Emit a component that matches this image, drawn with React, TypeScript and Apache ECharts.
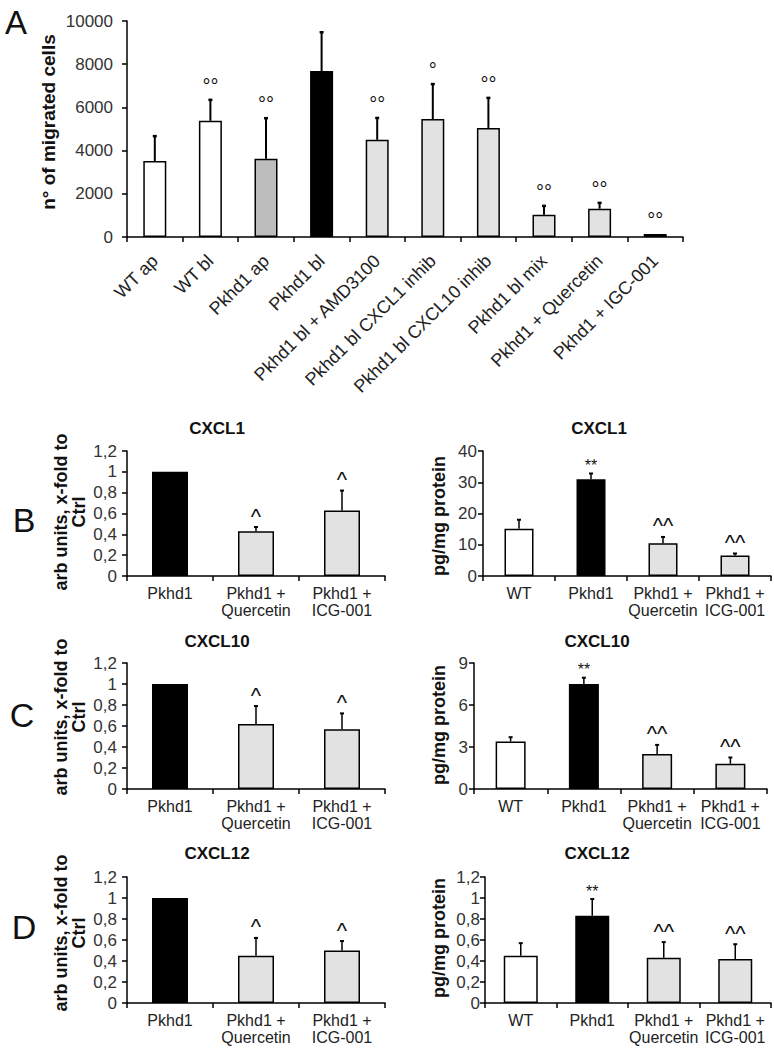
import React, { useEffect, useRef } from "react";
import * as echarts from "echarts";

const FONT = "'Liberation Sans', Arial, Helvetica, sans-serif";

// ---------- Panel A: migrated cells ----------
const migCategories = [
  "WT ap",
  "WT bl",
  "Pkhd1 ap",
  "Pkhd1 bl",
  "Pkhd1 bl + AMD3100",
  "Pkhd1 bl CXCL1 inhib",
  "Pkhd1 bl CXCL10 inhib",
  "Pkhd1 bl mix",
  "Pkhd1 + Quercetin",
  "Pkhd1 + IGC-001",
];
const migValues = [3520, 5380, 3620, 7680, 4500, 5460, 5050, 1030, 1310, 140];
const migErrors = [1150, 970, 1880, 1800, 1010, 1620, 1390, 410, 270, 0];
const migMarks = ["", "°°", "°°", "", "°°", "°", "°°", "°°", "°°", "°°"];
const migColors = ["#ffffff", "#ffffff", "#bdbdbd", "#000000", "#e2e2e2", "#e2e2e2", "#e2e2e2", "#e2e2e2", "#e2e2e2", "#000000"];
const migTicks = [0, 2000, 4000, 6000, 8000, 10000];

// ---------- Panels B-D ----------
const rnaCategories = ["Pkhd1", "Pkhd1 +\nQuercetin", "Pkhd1 +\nICG-001"];
const rnaColors = ["#000000", "#e2e2e2", "#e2e2e2"];
const proteinCategories = ["WT", "Pkhd1", "Pkhd1 +\nQuercetin", "Pkhd1 +\nICG-001"];
const proteinColors = ["#ffffff", "#000000", "#e2e2e2", "#e2e2e2"];

const cxcl1RnaValues = [1.0, 0.43, 0.63];
const cxcl1RnaErrors = [0, 0.04, 0.19];
const cxcl1RnaMarks = ["", "^", "^"];
const cxcl1ProteinValues = [15.1, 31.0, 10.5, 6.6];
const cxcl1ProteinErrors = [2.9, 1.8, 2.0, 0.6];
const cxcl1ProteinMarks = ["", "**", "^^", "^^"];

const cxcl10RnaValues = [1.0, 0.62, 0.57];
const cxcl10RnaErrors = [0, 0.17, 0.15];
const cxcl10RnaMarks = ["", "^", "^"];
const cxcl10ProteinValues = [3.4, 7.5, 2.5, 1.8];
const cxcl10ProteinErrors = [0.3, 0.45, 0.65, 0.45];
const cxcl10ProteinMarks = ["", "**", "^^", "^^"];

const cxcl12RnaValues = [1.0, 0.45, 0.5];
const cxcl12RnaErrors = [0, 0.17, 0.09];
const cxcl12RnaMarks = ["", "^", "^"];
const cxcl12ProteinValues = [0.45, 0.83, 0.43, 0.42];
const cxcl12ProteinErrors = [0.12, 0.16, 0.15, 0.14];
const cxcl12ProteinMarks = ["", "**", "^^", "^^"];

const rnaTicks = [0, 0.2, 0.4, 0.6, 0.8, 1, 1.2];
const cxcl1ProteinTicks = [0, 10, 20, 30, 40];
const cxcl10ProteinTicks = [0, 3, 6, 9];
const cxcl12ProteinTicks = [0, 0.2, 0.4, 0.6, 0.8, 1, 1.2];

type Panel = {
  grid: { left: number; top: number; width: number; height: number };
  categories: string[];
  values: number[];
  errors: number[];
  marks: string[];
  colors: string[];
  ticks: number[];
  barWidth: number;
  labelMargin: number;
  xRotate: number;
  xMargin: number;
  xFont: number;
  markGap: number;
  cap: number;
  errWidth: number;
};

const fmt = (v: number) => String(Math.round(v * 100) / 100).replace(".", ",");

export default function App() {
  const ref = useRef<HTMLDivElement>(null);

  useEffect(() => {
    if (!ref.current) return;
    const chart = echarts.init(ref.current, undefined, { renderer: "svg" });

    const leftW = 258;
    const panels: Panel[] = [
      {
        grid: { left: 127, top: 21, width: 556, height: 216 },
        categories: migCategories, values: migValues, errors: migErrors, marks: migMarks, colors: migColors,
        ticks: migTicks, barWidth: 23, labelMargin: 14, xRotate: 45, xMargin: 21, xFont: 18, markGap: 4, cap: 2, errWidth: 2,
      },
      {
        grid: { left: 127, top: 451, width: leftW, height: 125 },
        categories: rnaCategories, values: cxcl1RnaValues, errors: cxcl1RnaErrors, marks: cxcl1RnaMarks, colors: rnaColors,
        ticks: rnaTicks, barWidth: 36, labelMargin: 10, xRotate: 0, xMargin: 9, xFont: 16, markGap: 0, cap: 2, errWidth: 1.5,
      },
      {
        grid: { left: 483, top: 451, width: 288, height: 125 },
        categories: proteinCategories, values: cxcl1ProteinValues, errors: cxcl1ProteinErrors, marks: cxcl1ProteinMarks, colors: proteinColors,
        ticks: cxcl1ProteinTicks, barWidth: 29, labelMargin: 6, xRotate: 0, xMargin: 9, xFont: 16, markGap: 0, cap: 2, errWidth: 1.5,
      },
      {
        grid: { left: 127, top: 663, width: leftW, height: 126 },
        categories: rnaCategories, values: cxcl10RnaValues, errors: cxcl10RnaErrors, marks: cxcl10RnaMarks, colors: rnaColors,
        ticks: rnaTicks, barWidth: 36, labelMargin: 10, xRotate: 0, xMargin: 9, xFont: 16, markGap: 0, cap: 2, errWidth: 1.5,
      },
      {
        grid: { left: 474, top: 663, width: 293, height: 126 },
        categories: proteinCategories, values: cxcl10ProteinValues, errors: cxcl10ProteinErrors, marks: cxcl10ProteinMarks, colors: proteinColors,
        ticks: cxcl10ProteinTicks, barWidth: 30, labelMargin: 6, xRotate: 0, xMargin: 9, xFont: 16, markGap: 0, cap: 2, errWidth: 1.5,
      },
      {
        grid: { left: 127, top: 877, width: leftW, height: 126 },
        categories: rnaCategories, values: cxcl12RnaValues, errors: cxcl12RnaErrors, marks: cxcl12RnaMarks, colors: rnaColors,
        ticks: rnaTicks, barWidth: 36, labelMargin: 10, xRotate: 0, xMargin: 9, xFont: 16, markGap: 0, cap: 2, errWidth: 1.5,
      },
      {
        grid: { left: 485, top: 877, width: 286, height: 126 },
        categories: proteinCategories, values: cxcl12ProteinValues, errors: cxcl12ProteinErrors, marks: cxcl12ProteinMarks, colors: proteinColors,
        ticks: cxcl12ProteinTicks, barWidth: 34, labelMargin: 5, xRotate: 0, xMargin: 9, xFont: 16, markGap: 0, cap: 2, errWidth: 1.5,
      },
    ];

    const grids: any[] = [];
    const xAxes: any[] = [];
    const yAxes: any[] = [];
    const series: any[] = [];

    panels.forEach((p, i) => {
      grids.push({ ...p.grid, containLabel: false });
      xAxes.push({
        type: "category",
        gridIndex: i,
        data: p.categories,
        axisLine: { lineStyle: { color: "#000", width: 1.5 } },
        axisTick: { show: true, length: 5, lineStyle: { color: "#000", width: 1.5 } },
        axisLabel: {
          interval: 0,
          rotate: p.xRotate,
          margin: p.xMargin,
          color: "#222",
          fontFamily: FONT,
          fontSize: p.xFont,
          lineHeight: 17,
        },
        splitLine: { show: false },
      });
      const interval = p.ticks[1] - p.ticks[0];
      yAxes.push({
        type: "value",
        gridIndex: i,
        min: p.ticks[0],
        max: p.ticks[p.ticks.length - 1],
        interval,
        axisLine: { show: true, lineStyle: { color: "#000", width: 1.5 } },
        axisTick: { show: true, length: 5, lineStyle: { color: "#000", width: 1.5 } },
        splitLine: { show: false },
        axisLabel: {
          margin: p.labelMargin,
          color: "#333",
          fontFamily: FONT,
          fontSize: 17,
          formatter: (v: number) => fmt(v),
        },
      });
      series.push({
        type: "bar",
        xAxisIndex: i,
        yAxisIndex: i,
        barWidth: p.barWidth,
        data: p.values.map((v, k) => ({ value: v, itemStyle: { color: p.colors[k] } })),
        itemStyle: { borderColor: "#000", borderWidth: 1.5 },
        z: 2,
      });
      const marks = p.marks;
      series.push({
        type: "custom",
        xAxisIndex: i,
        yAxisIndex: i,
        z: 5,
        data: p.values.map((v, k) => [k, v, p.errors[k]]),
        encode: { x: 0, y: 1 },
        renderItem: (params: any, api: any) => {
          const idx = api.value(0);
          const v = api.value(1);
          const e = api.value(2);
          const base = api.coord([idx, v]);
          const top = api.coord([idx, v + e]);
          const children: any[] = [];
          if (e > 0) {
            children.push({
              type: "line",
              shape: { x1: base[0], y1: base[1], x2: top[0], y2: top[1] },
              style: { stroke: "#000", lineWidth: p.errWidth },
            });
            children.push({
              type: "line",
              shape: { x1: top[0] - p.cap, y1: top[1], x2: top[0] + p.cap, y2: top[1] },
              style: { stroke: "#000", lineWidth: p.errWidth + 0.5 },
            });
          }
          const m = marks[params.dataIndex];
          if (m) {
            const isCaret = m.indexOf("^") >= 0;
            const isDeg = m.indexOf("°") >= 0;
            children.push({
              type: "text",
              x: top[0],
              y: top[1] - p.markGap,
              style: {
                text: m,
                fill: "#111",
                fontFamily: FONT,
                fontSize: isCaret ? 22 : isDeg ? 20 : 16,
                align: "center",
                verticalAlign: "bottom",
              },
            });
          }
          return { type: "group", children };
        },
      });
    });

    const txt = (text: string, x: number, y: number, size: number, bold: boolean, rot = 0, lh?: number) => ({
      type: "text",
      x,
      y,
      rotation: rot,
      style: {
        text,
        fill: "#111",
        fontFamily: FONT,
        fontSize: size,
        fontWeight: bold ? "bold" : "normal",
        align: "center",
        verticalAlign: "middle",
        lineHeight: lh ?? size + 2,
      },
    });

    const R = Math.PI / 2;
    const graphic = [
      txt("A", 16, 22, 33, false),
      txt("B", 24, 520, 34, false),
      txt("C", 22, 715, 34, false),
      txt("D", 24, 927, 34, false),
      txt("n° of migrated cells", 48, 122, 19, true, R),
      txt("CXCL1", 217, 428, 17, true),
      txt("CXCL1", 599, 428, 17, true),
      txt("CXCL10", 217, 641, 17, true),
      txt("CXCL10", 597, 641, 17, true),
      txt("CXCL12", 217, 853, 17, true),
      txt("CXCL12", 597, 853, 17, true),
      txt("arb units, x-fold to\nCtrl", 70, 512, 18, true, R, 18),
      txt("arb units, x-fold to\nCtrl", 70, 717, 18, true, R, 18),
      txt("arb units, x-fold to\nCtrl", 70, 933, 18, true, R, 18),
      txt("pg/mg protein", 439, 516, 18, true, R),
      txt("pg/mg protein", 439, 725, 18, true, R),
      txt("pg/mg protein", 439, 938, 18, true, R),
    ];

    chart.setOption({
      animation: false,
      backgroundColor: "#ffffff",
      textStyle: { fontFamily: FONT },
      grid: grids,
      xAxis: xAxes,
      yAxis: yAxes,
      series,
      graphic,
    });

    return () => chart.dispose();
  }, []);

  return (
    <div
      ref={ref}
      style={{ position: "absolute", left: 0, top: 0, width: 774, height: 1050, background: "#fff" }}
    />
  );
}
